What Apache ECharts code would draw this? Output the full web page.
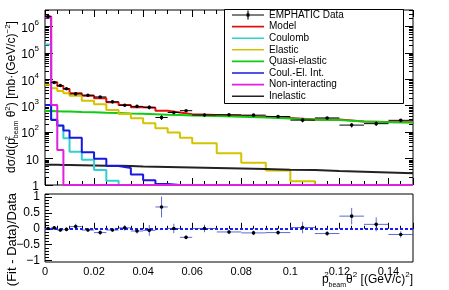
<!DOCTYPE html>
<html><head><meta charset="utf-8">
<script src="https://cdn.jsdelivr.net/npm/echarts@6/dist/echarts.min.js"></script>
<style>html,body{margin:0;padding:0;background:#fff}#c{width:449px;height:290px}</style>
</head><body><div id="c"></div>
<script>
// ---------- data ----------
const binEdges = [0,0.0025,0.005,0.0075,0.01,0.015,0.02,0.025,0.03,0.035,0.04,0.045,0.05,0.055,0.06,0.07,0.08,0.09,0.1,0.11,0.12,0.13,0.14,0.15];
const dataValues = [2.38e6,7600,5800,4400,2800,2500,2150,1400,1040,945,870,360,555,650,445,455,440,390,285,345,185,210,280];
const dataErrors = [7e4,450,350,260,220,150,170,85,95,75,140,72,75,40,50,30,30,28,50,25,35,38,28];
const modelValues = [2.4e6,7800,5600,4300,3000,2400,1900,1350,1070,880,830,640,560,480,450,410,385,345,300,300,255,240,235];
const coulombValues = [2.1e5,300,175,59,18,9,3.7,1.45,1,1,1,1,1,1,1,1,1,1,1,1,1,1,1];
const elasticValues = [6200,4600,3600,3000,2400,1560,1140,690,490,335,218,140,96,62,38,16,7,3.5,1.4,1,1,1,1];
const quasiValues = [630,620,610,605,580,565,545,530,510,495,480,460,445,430,405,380,355,330,292,290,252,238,232];
const interfValues = [1070,290,177,115,62,17.5,9.8,5.2,4.4,2.5,1.5,1.1,1,1,1,1,1,1,1,1,1,1,1];
const nonIntValues = [2.2e6,1070,21,1,1,1,1,1,1,1,1,1,1,1,1,1,1,1,1,1,1,1,1];
const inelasticValues = [5.8,5.8,5.7,5.7,5.6,5.5,5.4,5.3,5.2,5.0,4.9,4.8,4.7,4.6,4.4,4.2,4.0,3.8,3.7,3.4,3.2,3.0,2.8];
const residualValues = [0.01,0.03,-0.04,-0.02,0.07,-0.04,-0.12,-0.04,0.03,-0.07,-0.05,0.69,0.01,-0.27,0.01,-0.1,-0.13,-0.12,0.04,-0.15,0.4,0.14,-0.18];
const residualErrors = [0.03,0.05,0.06,0.06,0.09,0.06,0.07,0.06,0.09,0.08,0.17,0.33,0.15,0.06,0.12,0.07,0.07,0.07,0.18,0.08,0.26,0.22,0.1];
const xTickValues = [0,0.02,0.04,0.06,0.08,0.1,0.12,0.14];
const logTickValues = [1,10,100,1000,10000,100000,1000000];
const resTickValues = [-1,-0.5,0,0.5,1];
const resMinorValues = [-1,-0.9,-0.8,-0.7,-0.6,-0.5,-0.4,-0.3,-0.2,-0.1,0,0.1,0.2,0.3,0.4,0.5,0.6,0.7,0.8,0.9,1,1.1];
const legendNames = ['EMPHATIC Data','Model','Coulomb','Elastic','Quasi-elastic','Coul.-El. Int.','Non-interacting','Inelastic'];

const logMinorValues = [];
for (let d = 1; d <= 1e6; d *= 10) for (let k = 2; k <= 9; k++) if (k*d < 4.2e6) logMinorValues.push(k*d);

// ---------- helpers ----------
const FONT = 'Liberation Sans';
const LINE_ICON = 'path://M0,4.2 h32 v1.6 h-32 Z M0,0 h0.01 v10 h-0.01 Z';
const DATA_ICON = 'path://M0,4.4 h32 v1.2 h-32 Z M15.4,0.5 h1.2 v9 h-1.2 Z M14.5,3.5 h3 v3 h-3 Z';
function steps(vals){ return binEdges.map((e,i)=>[e, vals[Math.min(i, vals.length-1)]]); }
function points(vals, errs){ return vals.map((v,i)=>[(binEdges[i]+binEdges[i+1])/2, v, binEdges[i], binEdges[i+1], errs[i]]); }
function errRender(barColor, markColor, r){
  return function(params, api){
    const x=api.value(0), y=api.value(1), x0=api.value(2), x1=api.value(3), e=api.value(4);
    const c=api.coord([x,y]), pl=api.coord([x0,y]), ph=api.coord([x1,y]);
    const pt=api.coord([x,y+e]), pb=api.coord([x,y-e]);
    const st={stroke:barColor,lineWidth:1};
    return {type:'group',children:[
      {type:'line',shape:{x1:pl[0],y1:c[1],x2:ph[0],y2:c[1]},style:st},
      {type:'line',shape:{x1:c[0],y1:pt[1],x2:c[0],y2:pb[1]},style:st},
      {type:'circle',shape:{cx:c[0],cy:c[1],r:r},style:{fill:markColor}}
    ]};
  };
}
function hist(name, vals, color){
  return {name, type:'line', step:'end', data:steps(vals), symbol:'none', clip:true,
    xAxisIndex:0, yAxisIndex:0, color, lineStyle:{color, width:2}, itemStyle:{color}, z:2, silent:true};
}
function logFmt(v){
  if (v===1) return '{b|1}';
  if (v===10) return '{b|10}';
  return '{b|10}{s|' + Math.round(Math.log10(v)) + '}';
}
const axisBase = {axisLine:{show:false}, splitLine:{show:false}};

const chart = echarts.init(document.getElementById('c'), null, {renderer:'canvas'});
chart.setOption({
  animation:false,
  textStyle:{fontFamily:FONT},
  grid:[
    {left:45, top:10, width:368, height:175, show:true, borderColor:'#000', borderWidth:1, backgroundColor:'transparent'},
    {left:45, top:194, width:368, height:68, show:true, borderColor:'#000', borderWidth:1, backgroundColor:'transparent'}
  ],
  xAxis:[
    Object.assign({}, axisBase, {type:'value', gridIndex:0, position:'bottom', min:0, max:0.15, interval:0.02,
      axisLabel:{show:false}, axisTick:{inside:true, length:7, lineStyle:{color:'#000'}},
      minorTick:{show:true, splitNumber:4, length:4, lineStyle:{color:'#000'}}}),
    Object.assign({}, axisBase, {type:'value', gridIndex:0, position:'top', min:0, max:0.15, interval:0.02,
      axisLabel:{show:false}, axisTick:{inside:true, length:7, lineStyle:{color:'#000'}},
      minorTick:{show:true, splitNumber:4, length:4, lineStyle:{color:'#000'}}}),
    Object.assign({}, axisBase, {type:'value', gridIndex:1, position:'bottom', min:0, max:0.15, interval:0.02,
      axisLabel:{customValues:xTickValues, color:'#000', fontSize:11, fontFamily:FONT, margin:4},
      axisTick:{inside:true, length:6, lineStyle:{color:'#000'}},
      minorTick:{show:true, splitNumber:4, length:3, lineStyle:{color:'#000'}}})
  ],
  yAxis:[
    Object.assign({}, axisBase, {type:'log', logBase:10, gridIndex:0, position:'left', min:1, max:4.2e6,
      axisLabel:{customValues:logTickValues, formatter:logFmt, margin:6, color:'#000',
        rich:{b:{fontSize:12, fontFamily:FONT, color:'#000', lineHeight:16, verticalAlign:'bottom'},
              s:{fontSize:8, fontFamily:FONT, color:'#000', lineHeight:16, verticalAlign:'top'}}},
      axisTick:{customValues:logTickValues, inside:true, length:8, lineStyle:{color:'#000'}}}),
    Object.assign({}, axisBase, {type:'log', logBase:10, gridIndex:0, position:'left', min:1, max:4.2e6,
      axisLabel:{show:false},
      axisTick:{customValues:logMinorValues, inside:true, length:4, lineStyle:{color:'#000'}}}),
    Object.assign({}, axisBase, {type:'log', logBase:10, gridIndex:0, position:'right', min:1, max:4.2e6,
      axisLabel:{show:false},
      axisTick:{customValues:logTickValues, inside:true, length:8, lineStyle:{color:'#000'}}}),
    Object.assign({}, axisBase, {type:'log', logBase:10, gridIndex:0, position:'right', min:1, max:4.2e6,
      axisLabel:{show:false},
      axisTick:{customValues:logMinorValues, inside:true, length:4, lineStyle:{color:'#000'}}}),
    Object.assign({}, axisBase, {type:'value', gridIndex:1, position:'left', min:-1.05, max:1.1,
      axisLabel:{customValues:resTickValues, color:'#000', fontSize:12, fontFamily:FONT, margin:5,
        formatter:v=>String(v).replace('-','\u2212')},
      axisTick:{customValues:resTickValues, inside:true, length:7, lineStyle:{color:'#000'}}}),
    Object.assign({}, axisBase, {type:'value', gridIndex:1, position:'left', min:-1.05, max:1.1,
      axisLabel:{show:false},
      axisTick:{customValues:resMinorValues, inside:true, length:4, lineStyle:{color:'#000'}}})
  ],
  legend:{
    orient:'vertical', left:232, top:10, itemWidth:32, itemHeight:10, itemGap:1.6, padding:0,
    textStyle:{fontSize:10, color:'#000', fontFamily:FONT}, selectedMode:false, z:5,
    data:legendNames.map((n,i)=>({name:n, icon: i===0 ? DATA_ICON : LINE_ICON}))
  },
  graphic:[
    {type:'rect', z:3, shape:{x:224.5, y:9.5, width:179, height:94}, style:{fill:'#fff', stroke:'#000', lineWidth:1}},
    {type:'text', x:12, y:97, rotation:Math.PI/2, z:5,
      style:{text:'{n|d\u03C3/d(p}{u0|2}{d|beam}{n| \u03B8}{u|2}{n|) [mb\u00B7(GeV/c)}{u|\u22122}{n|]}', align:'center', verticalAlign:'middle',
        rich:{n:{fontSize:12, fontFamily:FONT, fill:'#000', lineHeight:16},
              u:{fontSize:8, fontFamily:FONT, fill:'#000', lineHeight:8, verticalAlign:'top'},
              u0:{fontSize:8, fontFamily:FONT, fill:'#000', lineHeight:8, verticalAlign:'top', width:0},
              d:{fontSize:7, fontFamily:FONT, fill:'#000', lineHeight:7, verticalAlign:'bottom'}}}},
    {type:'text', x:12, y:193, rotation:Math.PI/2, z:5,
      style:{text:'(Fit - Data)/Data', align:'right', verticalAlign:'middle', fontSize:13, fontFamily:FONT, fill:'#000'}},
    {type:'text', x:413, y:280, z:5,
      style:{text:'{n|p}{u0|2}{d|beam}{n|\u03B8}{u|2}{n| [(GeV/c)}{u|2}{n|]}', align:'right', verticalAlign:'middle',
        rich:{n:{fontSize:12, fontFamily:FONT, fill:'#000', lineHeight:18},
              u:{fontSize:8, fontFamily:FONT, fill:'#000', lineHeight:8, verticalAlign:'top'},
              u0:{fontSize:8, fontFamily:FONT, fill:'#000', lineHeight:8, verticalAlign:'top', width:0},
              d:{fontSize:7, fontFamily:FONT, fill:'#000', lineHeight:7, verticalAlign:'bottom'}}}}
  ],
  series:[
    hist('Model', modelValues, '#e01010'),
    hist('Quasi-elastic', quasiValues, '#10cc10'),
    hist('Elastic', elasticValues, '#d4c400'),
    hist('Inelastic', inelasticValues, '#222222'),
    hist('Coulomb', coulombValues, '#30d0d0'),
    hist('Coul.-El. Int.', interfValues, '#1818e0'),
    hist('Non-interacting', nonIntValues, '#e020e0'),
    {name:'EMPHATIC Data', type:'custom', coordinateSystem:'cartesian2d', xAxisIndex:0, yAxisIndex:0,
      data:points(dataValues, dataErrors), encode:{x:0, y:1}, renderItem:errRender('#000','#000',1.8),
      itemStyle:{color:'#000'}, z:4, silent:true, clip:true},
    {name:'Residual', type:'custom', coordinateSystem:'cartesian2d', xAxisIndex:2, yAxisIndex:4,
      data:points(residualValues, residualErrors), encode:{x:0, y:1}, renderItem:errRender('rgba(50,70,200,0.8)','#000',1.8),
      z:4, silent:true, clip:true,
      markLine:{silent:true, symbol:'none', label:{show:false}, z:3,
        lineStyle:{color:'#1a1aff', width:2, type:[3,2]}, data:[{yAxis:0}]}}
  ]
});
</script>
</body></html>
